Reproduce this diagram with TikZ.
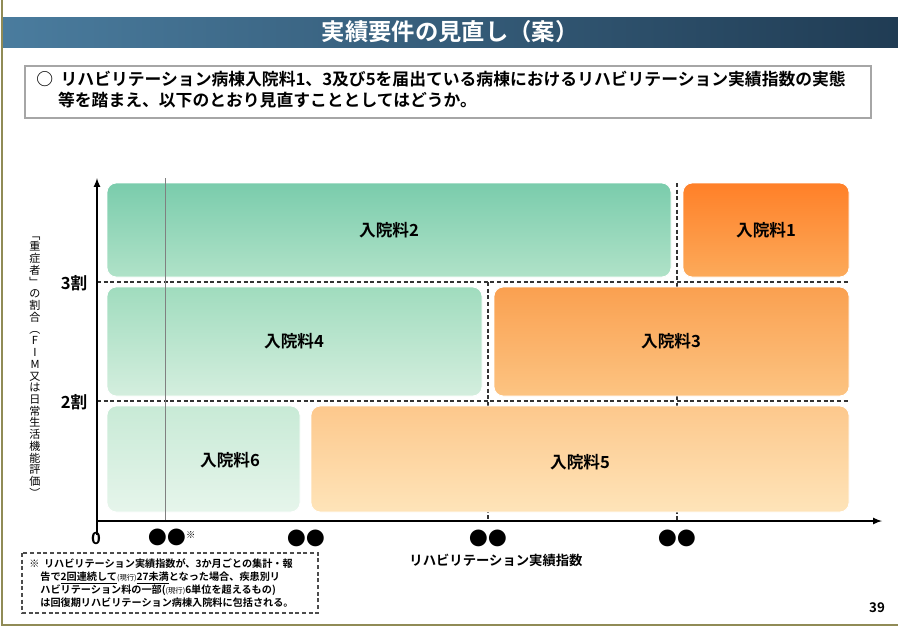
\documentclass[tikz,border=0pt]{standalone}
\usepackage{fontspec}
\setmainfont{Noto Sans CJK JP}[BoldFont={Noto Sans CJK JP Bold}]
\begin{document}
\begin{tikzpicture}[x=0.75pt,y=-0.75pt,
  box/.style={rounded corners=7pt,draw=white,line width=0.6pt},
  lab/.style={font=\bfseries\fontsize{12.5}{14}\selectfont},
  dsh/.style={densely dashed,line width=0.8pt,black!80},
  dots/.style={font=\fontsize{14}{14}\selectfont,inner sep=0pt}]
\useasboundingbox (0,0) rectangle (898,633);
\fill[white] (0,0) rectangle (898,633);
\draw[olive!40!gray,line width=1pt] (2,0) -- (2,625) -- (898,625);
% title
\shade[left color={rgb,255:red,74;green,124;blue,158},right color={rgb,255:red,32;green,60;blue,84}] (3,17) rectangle (898,47);
\node[text=white,font=\bfseries\fontsize{17.5}{19}\selectfont] (title) at (450,32) {実績要件の見直し（案）};
% intro box
\draw[gray!70,line width=1.2pt,fill=white] (25,66) rectangle (871,118);
\node[anchor=north west,align=left,font=\bfseries\fontsize{12.6}{15.5}\selectfont,inner sep=0pt] (intro) at (36,71)
 {○\ \ リハビリテーション病棟入院料1、3及び5を届出ている病棟におけるリハビリテーション実績指数の実態\\
 \hspace{1.3em}等を踏まえ、以下のとおり見直すこととしてはどうか。};
% dashed guide lines (behind boxes)
\draw[dsh] (97,282) -- (849,282);
\draw[dsh] (97,401) -- (849,401);
\draw[dsh] (677,183) -- (677,521);
\draw[dsh] (488,282) -- (488,521);
% boxes
\shade[box,top color={rgb,255:red,122;green,204;blue,172},bottom color={rgb,255:red,176;green,226;blue,200}] (107,183) rectangle (671,277);
\node[lab] (n2) at (389,230) {入院料2};
\shade[box,top color={rgb,255:red,255;green,128;blue,40},bottom color={rgb,255:red,252;green,170;blue,90}] (683,183) rectangle (849,277);
\node[lab] (n1) at (766,230) {入院料1};
\shade[box,top color={rgb,255:red,160;green,220;blue,190},bottom color={rgb,255:red,212;green,238;blue,222}] (107,287) rectangle (482,396);
\node[lab] (n4) at (294,341) {入院料4};
\shade[box,top color={rgb,255:red,250;green,160;blue,80},bottom color={rgb,255:red,252;green,196;blue,130}] (494,287) rectangle (849,396);
\node[lab] (n3) at (671,341) {入院料3};
\shade[box,top color={rgb,255:red,200;green,234;blue,214},bottom color={rgb,255:red,230;green,245;blue,235}] (107,406) rectangle (300,512);
\node[lab] (n6) at (230,460) {入院料6};
\shade[box,top color={rgb,255:red,253;green,200;blue,140},bottom color={rgb,255:red,254;green,228;blue,185}] (311,406) rectangle (849,512);
\node[lab] (n5) at (580,462) {入院料5};
\draw[gray,line width=0.5pt] (165,178) -- (165,521);
% axes
\coordinate (o) at (97,521);
\coordinate (yt) at (97,178);
\coordinate (xt) at (882,521);
\draw[line width=1.3pt,-latex] (97,535) -- (yt);
\draw[line width=1.3pt,-latex] (o) -- (xt);
\node[lab] (s3) at (74,283) {3割};
\node[lab] (s2) at (74,402) {2割};
\node[lab] (zero) at (96,538) {0};
\node[dots] (d1) at (172,537) {●●\raisebox{0.6ex}{\fontsize{7}{7}\selectfont ※}};
\node[dots] (d2) at (306,538) {●●};
\node[dots] (d3) at (488,538) {●●};
\node[dots] (d4) at (677,538) {●●};
\node[font=\bfseries\fontsize{10}{12}\selectfont] (xl) at (496,560) {リハビリテーション実績指数};
\node[font=\fontsize{8.3}{8.8}\selectfont,align=center,inner sep=0pt] (yl) at (35,367)
 {﹁\\重\\症\\者\\﹂\\の\\割\\合\\︵\\F\\I\\M\\又\\は\\日\\常\\生\\活\\機\\能\\評\\価\\︶};
% footnote
\draw[densely dashed,line width=0.8pt,black!70] (22,553) rectangle (318,613);
\node[anchor=north west,align=left,inner sep=0pt,font=\bfseries\fontsize{7.6}{9.8}\selectfont] (fn) at (29,558)
 {※\ \ リハビリテーション実績指数が、3か月ごとの集計・報\\
 \hspace{1.1em}告で\underline{2回連続して}{\mdseries\fontsize{5.5}{6}\selectfont(現行)}\underline{27未満}となった場合、疾患別リ\\
 \hspace{1.1em}ハビリテーション料の一部({\mdseries\fontsize{5.5}{6}\selectfont(現行)}6単位を超えるもの)\\
 \hspace{1.1em}は回復期リハビリテーション病棟入院料に包括される。};
\node[font=\bfseries\fontsize{10}{12}\selectfont] (pg) at (877,608) {39};
\end{tikzpicture}
\end{document}
